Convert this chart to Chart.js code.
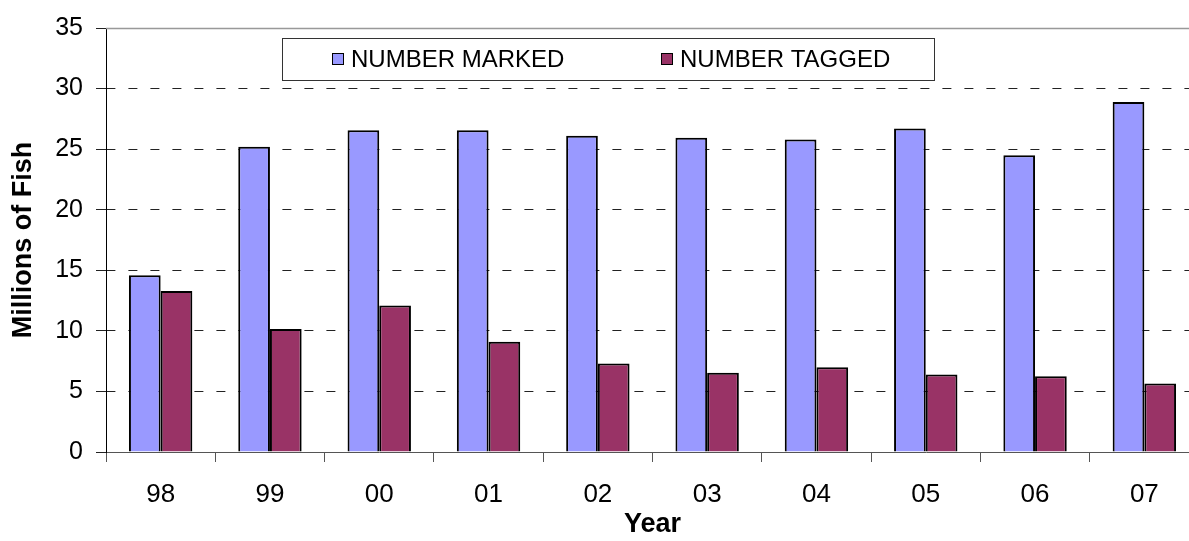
<!DOCTYPE html>
<html><head><meta charset="utf-8">
<script src="https://cdn.jsdelivr.net/npm/chart.js@4/dist/chart.umd.min.js"></script>
<style>html,body{margin:0;padding:0;background:#fff;overflow:hidden;width:1189px;height:541px}canvas{display:block}</style>
</head><body>
<canvas id="c" width="1200" height="541"></canvas>
<script>
const categories = ['98','99','00','01','02','03','04','05','06','07'];
const numberMarked = [14.6, 25.2, 26.55, 26.55, 26.1, 25.95, 25.8, 26.7, 24.5, 28.9];
const numberTagged = [13.3, 10.15, 12.1, 9.1, 7.3, 6.55, 7.0, 6.4, 6.25, 5.65];
const seriesLabels = ['NUMBER MARKED', 'NUMBER TAGGED'];
const seriesColors = ['#9999FF', '#993366'];
const yTicks = [0, 5, 10, 15, 20, 25, 30, 35];
const xTitle = 'Year';
const yTitle = 'Millions of Fish';

const FAMILY = '"Liberation Sans", Arial, sans-serif';

const topLine = {
  id: 'topLine',
  afterDraw(chart) {
    const {ctx, chartArea: a} = chart;
    ctx.save();
    ctx.strokeStyle = '#999';
    ctx.lineWidth = 1.5;
    ctx.beginPath();
    ctx.moveTo(a.left, a.top + 0.5);
    ctx.lineTo(a.right, a.top + 0.5);
    ctx.stroke();
    ctx.restore();
  }
};

const boxLegend = {
  id: 'boxLegend',
  afterDraw(chart) {
    const {ctx} = chart;
    const box = {x: 282, y: 38, w: 652, h: 42};
    const items = [{mx: 332, tx: 351}, {mx: 661, tx: 680}];
    ctx.save();
    ctx.fillStyle = '#fff';
    ctx.fillRect(box.x, box.y, box.w, box.h);
    ctx.strokeStyle = '#333';
    ctx.lineWidth = 1;
    ctx.strokeRect(box.x + 0.5, box.y + 0.5, box.w, box.h);
    const cy = box.y + box.h / 2;
    chart.data.datasets.forEach((ds, i) => {
      const it = items[i];
      ctx.fillStyle = ds.backgroundColor;
      ctx.fillRect(it.mx, cy - 6, 12, 12);
      ctx.strokeStyle = '#000';
      ctx.lineWidth = 1;
      ctx.strokeRect(it.mx + 0.5, cy - 5.5, 11, 11);
      ctx.fillStyle = '#000';
      ctx.font = '24px ' + FAMILY;
      ctx.textBaseline = 'middle';
      ctx.textAlign = 'left';
      ctx.fillText(ds.label, it.tx, cy + 1);
    });
    ctx.restore();
  }
};

new Chart(document.getElementById('c'), {
  type: 'bar',
  data: {
    labels: categories,
    datasets: [
      {label: seriesLabels[0], data: numberMarked, backgroundColor: seriesColors[0], borderColor: '#000', borderWidth: 2},
      {label: seriesLabels[1], data: numberTagged, backgroundColor: seriesColors[1], borderColor: '#000', borderWidth: 2}
    ]
  },
  options: {
    responsive: false,
    animation: false,
    devicePixelRatio: 1,
    layout: {padding: {top: 20, right: 1, left: 0, bottom: 0}},
    plugins: {legend: {display: false}, tooltip: {enabled: false}},
    datasets: {bar: {categoryPercentage: 0.58, barPercentage: 1}},
    scales: {
      x: {
        grid: {offset: true, drawOnChartArea: false, tickLength: 10, color: '#555', tickColor: '#555', lineWidth: 1},
        border: {color: '#555', width: 1},
        ticks: {font: {size: 26, family: FAMILY}, color: '#000', padding: 17, maxRotation: 0},
        title: {display: true, text: xTitle, color: '#000', font: {size: 27, weight: 'bold', family: FAMILY}, padding: {top: 0, bottom: 0}},
        afterFit(s) { s.height = 89; }
      },
      y: {
        min: 0, max: 35,
        afterBuildTicks(s) { s.ticks = yTicks.map(v => ({value: v})); },
        grid: {
          color: c => (c.tick && (c.tick.value === 0 || c.tick.value === 35)) ? 'rgba(0,0,0,0)' : '#222',
          tickColor: '#222', tickLength: 10, lineWidth: 1
        },
        border: {color: '#000', width: 1, dash: [9, 13], dashOffset: 0.6},
        ticks: {font: {size: 25, family: FAMILY}, color: '#000', padding: 13},
        title: {display: true, text: yTitle, color: '#000', font: {size: 27, weight: 'bold', family: FAMILY}, padding: {top: 7, bottom: 0}},
        afterFit(s) { s.width = 106; }
      }
    }
  },
  plugins: [topLine, boxLegend]
});
</script>
</body></html>
